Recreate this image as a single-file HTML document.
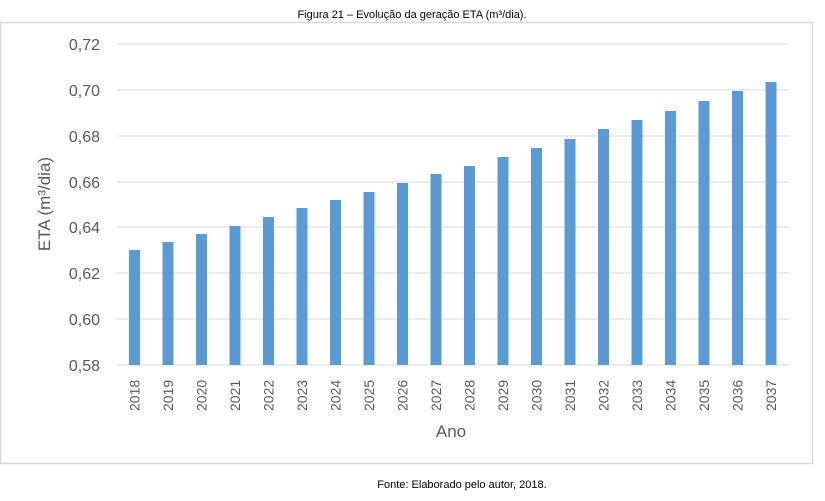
<!DOCTYPE html>
<html><head><meta charset="utf-8"><style>
body{margin:0;background:#fff;}
svg{display:block;font-family:"Liberation Sans",sans-serif;}
</style></head><body>
<svg width="825" height="501" viewBox="0 0 825 501">
<text x="412" y="18" font-size="11" text-anchor="middle" fill="#000">Figura 21 – Evolução da geração ETA (m³/dia).</text>
<rect x="0.5" y="22.5" width="812" height="441" fill="#fff" stroke="#d9d9d9" stroke-width="1.5"/>
<g stroke="#d9d9d9" stroke-width="1">
<line x1="117" x2="789" y1="44" y2="44"/><line x1="117" x2="789" y1="90" y2="90"/>
<line x1="117" x2="789" y1="136" y2="136"/><line x1="117" x2="789" y1="182" y2="182"/>
<line x1="117" x2="789" y1="227" y2="227"/><line x1="117" x2="789" y1="273" y2="273"/>
<line x1="117" x2="789" y1="319" y2="319"/><line x1="117" x2="789" y1="365" y2="365"/>
</g>
<g font-size="16" fill="#595959" text-anchor="end">
<text x="100" y="50">0,72</text><text x="100" y="96">0,70</text><text x="100" y="142">0,68</text>
<text x="100" y="188">0,66</text><text x="100" y="233">0,64</text><text x="100" y="279">0,62</text>
<text x="100" y="325">0,60</text><text x="100" y="371">0,58</text>
</g>
<text transform="translate(50,204) rotate(-90)" font-size="17" fill="#595959" text-anchor="middle">ETA (m³/dia)</text>
<g fill="#5b9bd5" id="bars"></g>
<g font-size="14" fill="#595959" id="labels"></g>
<text x="451" y="437" font-size="17" fill="#595959" text-anchor="middle">Ano</text>
<text x="462" y="488" font-size="11" text-anchor="middle" fill="#000">Fonte: Elaborado pelo autor, 2018.</text>
<script>
var tops=[250,242,234,226,217,208,200,192,183,174,166,157,148,139,129,120,111,101,91,82];
var b=document.getElementById('bars'),l=document.getElementById('labels'),ns="http://www.w3.org/2000/svg";
for(var i=0;i<20;i++){var cx=134.5+i*33.5;
var r=document.createElementNS(ns,'rect');r.setAttribute('x',cx-5.5);r.setAttribute('y',tops[i]);r.setAttribute('width',11);r.setAttribute('height',365-tops[i]);b.appendChild(r);
var t=document.createElementNS(ns,'text');t.setAttribute('transform','translate('+(cx+5)+',411) rotate(-90)');t.textContent=2018+i;l.appendChild(t);}
</script>
</svg>
</body></html>
